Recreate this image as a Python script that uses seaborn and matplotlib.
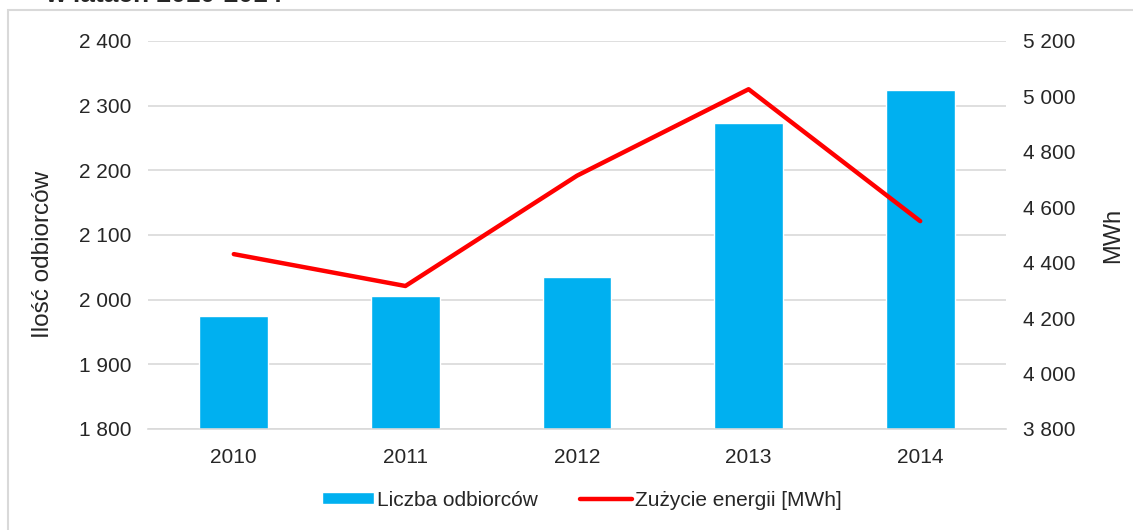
import pandas as pd
import matplotlib.pyplot as plt
from matplotlib.ticker import FuncFormatter, MultipleLocator
from matplotlib.patches import Rectangle
import seaborn as sns

years = ['2010', '2011', '2012', '2013', '2014']
odbiorcy = [1975, 2006, 2035, 2273, 2324]
energia = [4431, 4316, 4714, 5026, 4550]

df = pd.DataFrame({'Rok': years, 'Liczba odbiorców': odbiorcy, 'Zużycie energii [MWh]': energia})
df['pos'] = range(len(df))

sns.set_style('white')
plt.rcParams['font.family'] = ['Liberation Sans', 'DejaVu Sans']
plt.rcParams['font.size'] = 15

def spaced(v, pos):
    return f'{int(v):,}'.replace(',', ' ')

fig = plt.figure(figsize=(11.33, 5.3), dpi=100)
ax = fig.add_axes([148 / 1133, 1 - 429 / 530, (1006 - 148) / 1133, (429 - 41) / 530])
ax2 = ax.twinx()

sns.barplot(data=df, x='Rok', y='Liczba odbiorców', color='#00b0f0', width=0.4,
            saturation=1, ax=ax, label='Liczba odbiorców', zorder=2)
sns.lineplot(data=df, x='pos', y='Zużycie energii [MWh]', color='#ff0000', lw=3.2,
             ax=ax2, label='Zużycie energii [MWh]', solid_capstyle='round')

ax.set_xlim(-0.5, 4.5)
ax.set_ylim(1800, 2400)
ax.yaxis.set_major_locator(MultipleLocator(100))
ax.yaxis.set_major_formatter(FuncFormatter(spaced))
ax2.set_ylim(3800, 5200)
ax2.yaxis.set_major_locator(MultipleLocator(200))
ax2.yaxis.set_major_formatter(FuncFormatter(spaced))

ax.grid(axis='y', color='#d9d9d9', lw=1.2, zorder=0)
ax.set_axisbelow(True)
for a in (ax, ax2):
    for s in a.spines.values():
        s.set_visible(False)
ax.spines['bottom'].set_visible(True)
ax.spines['bottom'].set_color('#d9d9d9')
ax.spines['bottom'].set_linewidth(1.2)

ax.tick_params(axis='y', length=0, pad=12, labelsize=15)
ax.tick_params(axis='x', length=0, pad=14, labelsize=15)
ax2.tick_params(axis='y', length=0, pad=12, labelsize=15)

ax.set_xlabel('')
ax.set_ylabel('Ilość odbiorców', fontsize=17.5)
ax.yaxis.set_label_coords(-0.11, 0.45)
ax2.set_ylabel('MWh', fontsize=17, labelpad=19)

h1, l1 = ax.get_legend_handles_labels()
h2, l2 = ax2.get_legend_handles_labels()
if ax2.get_legend():
    ax2.get_legend().remove()
if ax.get_legend():
    ax.get_legend().remove()
fig.legend(h1 + h2, l1 + l2, loc='center', bbox_to_anchor=(582 / 1133, 1 - 500 / 530),
           ncol=2, frameon=False, fontsize=15, handlelength=2.5, handleheight=0.5,
           handletextpad=0.15, columnspacing=2.0)

fig.patches.append(Rectangle((8 / 1133, -0.1), 1.2, 1 - 10 / 530 + 0.1, transform=fig.transFigure,
                             fill=False, edgecolor='#d9d9d9', lw=1.5))
fig.text(45 / 1133, 1 - 2 / 530, 'w latach 2010-2014', fontsize=19, fontweight='bold',
         ha='left', va='baseline')

plt.savefig('out.png', dpi=100)
